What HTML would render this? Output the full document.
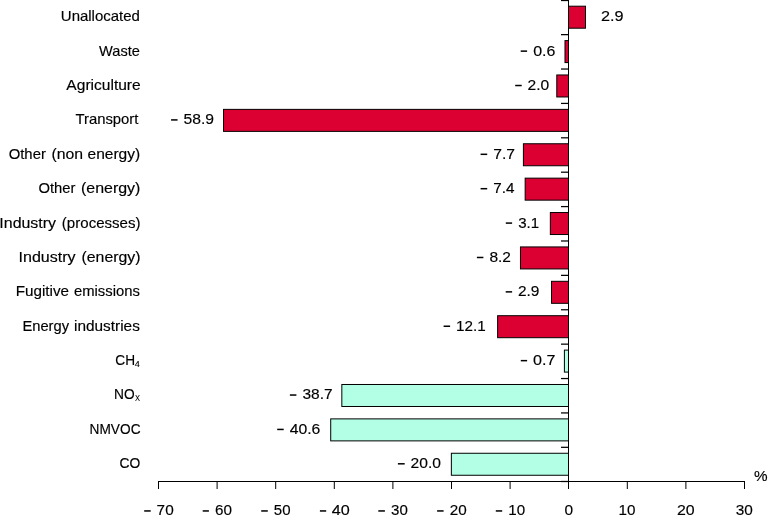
<!DOCTYPE html><html><head><meta charset="utf-8"><style>html,body{margin:0;padding:0;background:#fff;}svg{display:block;will-change:transform;}text{font-family:"Liberation Sans",sans-serif;fill:#000;stroke:#000;stroke-width:0.15px;}</style></head><body>
<svg width="768" height="518" viewBox="0 0 768 518">
<rect width="768" height="518" fill="#fff"/>
<rect x="568.50" y="6.20" width="16.99" height="22" fill="#dc0032" stroke="#000" stroke-width="1"/>
<rect x="564.99" y="40.59" width="3.51" height="22" fill="#dc0032" stroke="#000" stroke-width="1"/>
<rect x="556.79" y="74.97" width="11.71" height="22" fill="#dc0032" stroke="#000" stroke-width="1"/>
<rect x="223.52" y="109.37" width="344.98" height="22" fill="#dc0032" stroke="#000" stroke-width="1"/>
<rect x="523.40" y="143.75" width="45.10" height="22" fill="#dc0032" stroke="#000" stroke-width="1"/>
<rect x="525.16" y="178.15" width="43.34" height="22" fill="#dc0032" stroke="#000" stroke-width="1"/>
<rect x="550.34" y="212.53" width="18.16" height="22" fill="#dc0032" stroke="#000" stroke-width="1"/>
<rect x="520.47" y="246.93" width="48.03" height="22" fill="#dc0032" stroke="#000" stroke-width="1"/>
<rect x="551.51" y="281.31" width="16.99" height="22" fill="#dc0032" stroke="#000" stroke-width="1"/>
<rect x="497.63" y="315.70" width="70.87" height="22" fill="#dc0032" stroke="#000" stroke-width="1"/>
<rect x="564.40" y="350.10" width="4.10" height="22" fill="#b3ffe6" stroke="#000" stroke-width="1"/>
<rect x="341.83" y="384.49" width="226.67" height="22" fill="#b3ffe6" stroke="#000" stroke-width="1"/>
<rect x="330.71" y="418.88" width="237.79" height="22" fill="#b3ffe6" stroke="#000" stroke-width="1"/>
<rect x="451.36" y="453.26" width="117.14" height="22" fill="#b3ffe6" stroke="#000" stroke-width="1"/>
<g stroke="#000" stroke-width="1" fill="none">
<path d="M568.5 0V489"/>
<path d="M158 481.5H745"/>
<path d="M561 0.50H568" stroke-width="1.25"/>
<path d="M561 34.64H568" stroke-width="1.25"/>
<path d="M561 69.03H568" stroke-width="1.25"/>
<path d="M561 103.42H568" stroke-width="1.25"/>
<path d="M561 137.81H568" stroke-width="1.25"/>
<path d="M561 172.20H568" stroke-width="1.25"/>
<path d="M561 206.59H568" stroke-width="1.25"/>
<path d="M561 240.98H568" stroke-width="1.25"/>
<path d="M561 275.37H568" stroke-width="1.25"/>
<path d="M561 309.76H568" stroke-width="1.25"/>
<path d="M561 344.15H568" stroke-width="1.25"/>
<path d="M561 378.54H568" stroke-width="1.25"/>
<path d="M561 412.93H568" stroke-width="1.25"/>
<path d="M561 447.32H568" stroke-width="1.25"/>
<path d="M561 481.50H568" stroke-width="1.25"/>
<path d="M158.50 481V489"/>
<path d="M217.10 481V489"/>
<path d="M275.70 481V489"/>
<path d="M334.30 481V489"/>
<path d="M392.90 481V489"/>
<path d="M451.50 481V489"/>
<path d="M510.10 481V489"/>
<path d="M627.30 481V489"/>
<path d="M685.90 481V489"/>
<path d="M744.50 481V489"/>
</g>
<text x="60.85" y="21.20" font-size="14.5" textLength="79.02" lengthAdjust="spacingAndGlyphs">Unallocated</text>
<text x="99.14" y="55.59" font-size="14.5" textLength="40.80" lengthAdjust="spacingAndGlyphs">Waste</text>
<text x="66.37" y="89.97" font-size="14.5" textLength="74.32" lengthAdjust="spacingAndGlyphs">Agriculture</text>
<text x="75.47" y="124.37" font-size="14.5" textLength="62.94" lengthAdjust="spacingAndGlyphs">Transport</text>
<text x="8.70" y="158.75" font-size="14.5" textLength="37.15" lengthAdjust="spacingAndGlyphs">Other</text>
<text x="51.42" y="158.75" font-size="14.5" textLength="31.60" lengthAdjust="spacingAndGlyphs">(non</text>
<text x="87.54" y="158.75" font-size="14.5" textLength="52.62" lengthAdjust="spacingAndGlyphs">energy)</text>
<text x="38.40" y="193.15" font-size="14.5" textLength="36.94" lengthAdjust="spacingAndGlyphs">Other</text>
<text x="81.01" y="193.15" font-size="14.5" textLength="59.38" lengthAdjust="spacingAndGlyphs">(energy)</text>
<text x="-0.67" y="227.53" font-size="14.5" textLength="56.70" lengthAdjust="spacingAndGlyphs">Industry</text>
<text x="61.87" y="227.53" font-size="14.5" textLength="78.67" lengthAdjust="spacingAndGlyphs">(processes)</text>
<text x="18.52" y="261.93" font-size="14.5" textLength="57.11" lengthAdjust="spacingAndGlyphs">Industry</text>
<text x="81.52" y="261.93" font-size="14.5" textLength="59.07" lengthAdjust="spacingAndGlyphs">(energy)</text>
<text x="15.75" y="296.31" font-size="14.5" textLength="53.33" lengthAdjust="spacingAndGlyphs">Fugitive</text>
<text x="73.97" y="296.31" font-size="14.5" textLength="65.86" lengthAdjust="spacingAndGlyphs">emissions</text>
<text x="22.50" y="330.70" font-size="14.5" textLength="46.53" lengthAdjust="spacingAndGlyphs">Energy</text>
<text x="74.07" y="330.70" font-size="14.5" textLength="65.78" lengthAdjust="spacingAndGlyphs">industries</text>
<text x="89.58" y="433.88" font-size="14.5" textLength="50.94" lengthAdjust="spacingAndGlyphs">NMVOC</text>
<text x="119.60" y="468.26" font-size="14.5" textLength="20.77" lengthAdjust="spacingAndGlyphs">CO</text>
<text x="115.31" y="365.10" font-size="14.5" textLength="19.71" lengthAdjust="spacingAndGlyphs">CH</text>
<text x="134.89" y="367.10" font-size="8.4" textLength="5.08" lengthAdjust="spacingAndGlyphs" style="stroke-width:0.1px">4</text>
<text x="113.97" y="399.49" font-size="14.5" textLength="20.58" lengthAdjust="spacingAndGlyphs">NO</text>
<text x="134.93" y="401.49" font-size="8.4" textLength="5.03" lengthAdjust="spacingAndGlyphs" style="stroke-width:0.05px">X</text>
<text x="600.98" y="21.20" font-size="14.5" textLength="22.59" lengthAdjust="spacingAndGlyphs">2.9</text>
<text x="533.18" y="55.59" font-size="14.5" textLength="22.23" lengthAdjust="spacingAndGlyphs">0.6</text>
<rect x="520.70" y="50.38" width="6.40" height="1.5" fill="#000"/>
<text x="527.62" y="89.97" font-size="14.5" textLength="21.69" lengthAdjust="spacingAndGlyphs">2.0</text>
<rect x="515.20" y="84.77" width="6.50" height="1.5" fill="#000"/>
<text x="183.52" y="124.37" font-size="14.5" textLength="30.52" lengthAdjust="spacingAndGlyphs">58.9</text>
<rect x="171.06" y="119.17" width="6.49" height="1.5" fill="#000"/>
<text x="493.19" y="158.75" font-size="14.5" textLength="21.90" lengthAdjust="spacingAndGlyphs">7.7</text>
<rect x="480.60" y="153.56" width="6.60" height="1.5" fill="#000"/>
<text x="493.22" y="193.15" font-size="14.5" textLength="21.23" lengthAdjust="spacingAndGlyphs">7.4</text>
<rect x="480.60" y="187.95" width="6.60" height="1.5" fill="#000"/>
<text x="518.23" y="227.53" font-size="14.5" textLength="20.91" lengthAdjust="spacingAndGlyphs">3.1</text>
<rect x="505.80" y="222.34" width="6.30" height="1.5" fill="#000"/>
<text x="489.43" y="261.93" font-size="14.5" textLength="21.55" lengthAdjust="spacingAndGlyphs">8.2</text>
<rect x="476.90" y="256.73" width="6.50" height="1.5" fill="#000"/>
<text x="517.92" y="296.31" font-size="14.5" textLength="21.51" lengthAdjust="spacingAndGlyphs">2.9</text>
<rect x="505.70" y="291.12" width="6.40" height="1.5" fill="#000"/>
<text x="455.94" y="330.70" font-size="14.5" textLength="29.71" lengthAdjust="spacingAndGlyphs">12.1</text>
<rect x="443.60" y="325.50" width="6.50" height="1.5" fill="#000"/>
<text x="533.07" y="365.10" font-size="14.5" textLength="22.44" lengthAdjust="spacingAndGlyphs">0.7</text>
<rect x="520.80" y="359.90" width="6.30" height="1.5" fill="#000"/>
<text x="302.51" y="399.49" font-size="14.5" textLength="30.17" lengthAdjust="spacingAndGlyphs">38.7</text>
<rect x="289.90" y="394.29" width="6.50" height="1.5" fill="#000"/>
<text x="289.74" y="433.88" font-size="14.5" textLength="30.65" lengthAdjust="spacingAndGlyphs">40.6</text>
<rect x="277.20" y="428.68" width="6.50" height="1.5" fill="#000"/>
<text x="410.61" y="468.26" font-size="14.5" textLength="30.40" lengthAdjust="spacingAndGlyphs">20.0</text>
<rect x="397.90" y="463.06" width="6.80" height="1.5" fill="#000"/>
<text x="156.61" y="515.40" font-size="14.5" textLength="17.09" lengthAdjust="spacingAndGlyphs">70</text>
<rect x="144.20" y="510.20" width="6.50" height="1.5" fill="#000"/>
<text x="214.93" y="515.40" font-size="14.5" textLength="16.97" lengthAdjust="spacingAndGlyphs">60</text>
<rect x="202.70" y="510.20" width="6.20" height="1.5" fill="#000"/>
<text x="273.80" y="515.40" font-size="14.5" textLength="16.69" lengthAdjust="spacingAndGlyphs">50</text>
<rect x="261.20" y="510.20" width="6.60" height="1.5" fill="#000"/>
<text x="331.73" y="515.40" font-size="14.5" textLength="18.00" lengthAdjust="spacingAndGlyphs">40</text>
<rect x="319.90" y="510.20" width="6.30" height="1.5" fill="#000"/>
<text x="391.13" y="515.40" font-size="14.5" textLength="16.76" lengthAdjust="spacingAndGlyphs">30</text>
<rect x="378.30" y="510.20" width="6.60" height="1.5" fill="#000"/>
<text x="449.73" y="515.40" font-size="14.5" textLength="16.96" lengthAdjust="spacingAndGlyphs">20</text>
<rect x="437.10" y="510.20" width="6.50" height="1.5" fill="#000"/>
<text x="508.35" y="515.40" font-size="14.5" textLength="16.85" lengthAdjust="spacingAndGlyphs">10</text>
<rect x="495.80" y="510.20" width="6.40" height="1.5" fill="#000"/>
<text x="564.40" y="515.40" font-size="14.5" textLength="8.61" lengthAdjust="spacingAndGlyphs">0</text>
<text x="618.54" y="515.40" font-size="14.5" textLength="16.96" lengthAdjust="spacingAndGlyphs">10</text>
<text x="677.00" y="515.40" font-size="14.5" textLength="17.72" lengthAdjust="spacingAndGlyphs">20</text>
<text x="735.71" y="515.40" font-size="14.5" textLength="17.09" lengthAdjust="spacingAndGlyphs">30</text>
<text x="754.06" y="481.00" font-size="14.5" textLength="13.59" lengthAdjust="spacingAndGlyphs">%</text>
</svg></body></html>
